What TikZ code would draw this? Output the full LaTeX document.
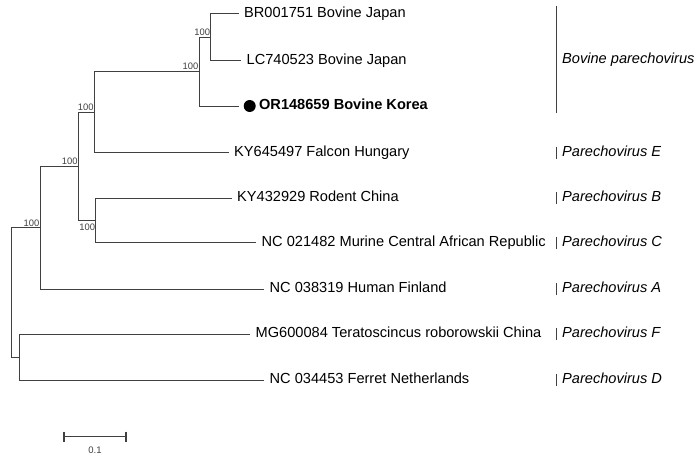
\documentclass[tikz,border=0pt]{standalone}
\usepackage{fontspec}
\setmainfont{Liberation Sans}
\usetikzlibrary{arrows.meta,positioning}
\definecolor{TreeGray}{RGB}{64,64,64}

\begin{document}
\begin{tikzpicture}[x=1pt,y=-1pt,
    branch/.style={draw=TreeGray,line width=0.9pt},
    tip/.style={anchor=west,inner xsep=5.5pt,inner ysep=0pt,text height=0.72em,text depth=0pt,
                font=\fontsize{14.6}{16}\selectfont},
    boot/.style={anchor=base east,inner sep=0.5pt,text=TreeGray,font=\fontsize{9.4}{10}\selectfont},
    clade/.style={anchor=west,inner xsep=6pt,inner ysep=0pt,text height=0.72em,text depth=0pt,
                  font=\fontsize{14.6}{16}\selectfont\itshape},
    cbar/.style={draw=TreeGray,line width=0.8pt}
  ]
    \useasboundingbox (0,0) rectangle (699,460);
    % internal nodes
    \coordinate (nBJ)  at (210.7,37);
    \coordinate (nBov) at (199,71.5);
    \coordinate (nBE)  at (94.3,112);
    \coordinate (nBC)  at (95.7,220.3);
    \coordinate (nIn)  at (78.3,166.1);
    \coordinate (nA)   at (40,227.6);
    \coordinate (nFD)  at (19.3,357.2);
    \coordinate (root) at (11.7,292.4);
    % tips
    \node[tip] (BR)  at (238.5,13.5) {BR001751 Bovine Japan};
    \node[tip] (LC)  at (241,60.5)   {LC740523 Bovine Japan};
    \node[circle,fill=black,inner sep=0pt,minimum size=12pt,anchor=west] (ORdot) at (243.5,106) {};
    \node[tip,inner xsep=3pt,right=0pt of ORdot,font=\fontsize{14.6}{16}\selectfont\bfseries] (OR) {OR148659 Bovine Korea};
    \node[tip] (KYf) at (228.5,152.5) {KY645497 Falcon Hungary};
    \node[tip] (KYr) at (231.5,198)   {KY432929 Rodent China};
    \node[tip] (NCm) at (256,242.5)   {NC 021482 Murine Central African Republic};
    \node[tip] (NCh) at (264,289)     {NC 038319 Human Finland};
    \node[tip] (MG)  at (250,334.3)   {MG600084 Teratoscincus roborowskii China};
    \node[tip] (NCf) at (264,380)     {NC 034453 Ferret Netherlands};
    % branches
    \draw[branch] (nBJ) |- (BR.west); \draw[branch] (nBJ) |- (LC.west);
    \draw[branch] (nBov) |- (nBJ); \draw[branch,shorten >=4.5pt] (nBov) |- (ORdot.west);
    \draw[branch] (nBE) |- (nBov); \draw[branch] (nBE) |- (KYf.west);
    \draw[branch] (nBC) |- (KYr.west); \draw[branch] (nBC) |- (NCm.west);
    \draw[branch] (nIn) |- (nBE); \draw[branch] (nIn) |- (nBC);
    \draw[branch] (nA) |- (nIn); \draw[branch] (nA) |- (NCh.west);
    \draw[branch] (nFD) |- (MG.west); \draw[branch] (nFD) |- (NCf.west);
    \draw[branch] (root) |- (nA); \draw[branch] (root) |- (nFD);
    % bootstrap values
    \node[boot,yshift=1.5pt] (bBJ) at (nBJ) {100};
    \node[boot,yshift=1.5pt] (bBov) at (nBov) {100};
    \node[boot,yshift=1.5pt] (bBE) at (nBE) {100};
    \node[boot,anchor=north east,yshift=-2.5pt] (bBC) at (nBC) {100};
    \node[boot,yshift=1.5pt] (bIn) at (nIn) {100};
    \node[boot,yshift=1.5pt] (bA) at (nA) {100};
    % clades
    \node[clade] (cBov) at (556,59.5) {Bovine parechovirus};
    \node[clade] (cE) at (556,152.5) {Parechovirus E};
    \node[clade] (cB) at (556,198)   {Parechovirus B};
    \node[clade] (cC) at (556,242.5) {Parechovirus C};
    \node[clade] (cA) at (556,289)   {Parechovirus A};
    \node[clade] (cF) at (556,334.3) {Parechovirus F};
    \node[clade] (cD) at (556,380)   {Parechovirus D};
    \draw[cbar] (cBov.west) ++(0,-53.5) -- ++(0,107);
    \draw[cbar] (cE.west) ++(0,-6) -- ++(0,12); \draw[cbar] (cB.west) ++(0,-6) -- ++(0,12);
    \draw[cbar] (cC.west) ++(0,-6) -- ++(0,12); \draw[cbar] (cA.west) ++(0,-6) -- ++(0,12);
    \draw[cbar] (cF.west) ++(0,-6) -- ++(0,12); \draw[cbar] (cD.west) ++(0,-6) -- ++(0,12);
    % scale bar
    \coordinate (sbL) at (63.3,436.7); \coordinate (sbR) at (126.7,436.7);
    \draw[TreeGray,line width=1.5pt,{Bar[width=10pt]}-{Bar[width=10pt]}] (sbL) -- (sbR);
    \node[anchor=north,inner sep=0pt,text height=0.72em,text depth=0pt,text=TreeGray,
          font=\fontsize{9.5}{10}\selectfont] (sbTxt) at (95,446.5) {0.1};
  \end{tikzpicture}
\end{document}
